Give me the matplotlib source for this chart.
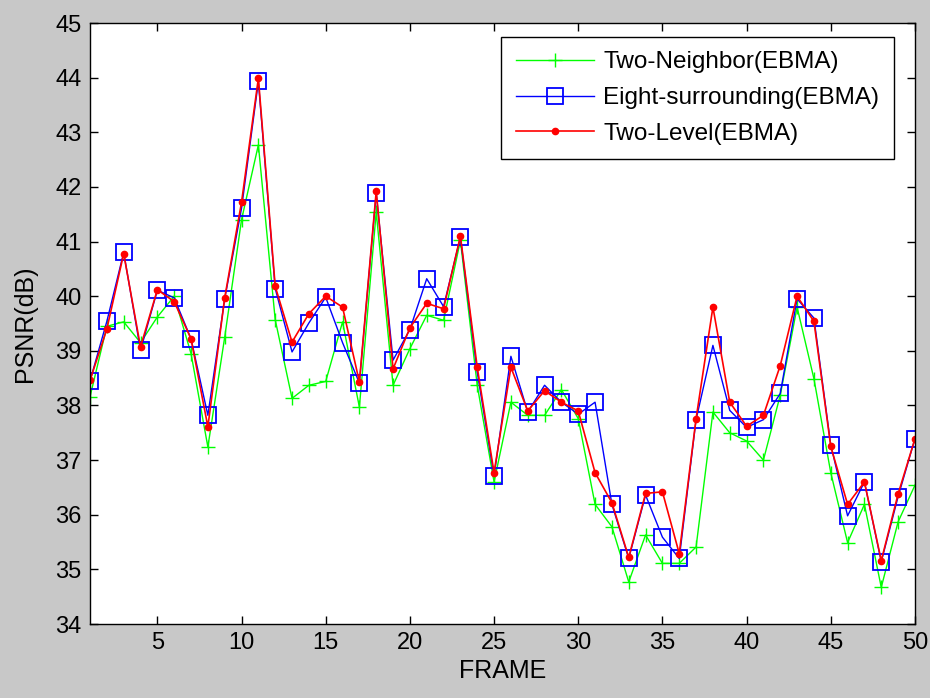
import matplotlib
matplotlib.use("Agg")
import matplotlib.pyplot as plt
import numpy as np

plt.rcParams['font.family'] = ['Liberation Sans', 'DejaVu Sans']

frames = list(range(1, 51))
two_neighbor = [38.16, 39.45, 39.53, 39.15, 39.62, 40.00, 38.95, 37.24, 39.25, 41.40,
                42.77, 39.57, 38.13, 38.37, 38.44, 39.53, 37.97, 41.54, 38.37, 39.04,
                39.65, 39.56, 41.02, 38.37, 36.60, 38.06, 37.82, 37.82, 38.29, 37.76,
                36.19, 35.78, 34.77, 35.63, 35.11, 35.11, 35.41, 37.88, 37.50, 37.35,
                37.00, 38.19, 39.80, 38.49, 36.77, 35.49, 36.19, 34.67, 35.87, 36.54]
eight_surr = [38.45, 39.54, 40.80, 39.01, 40.11, 39.97, 39.22, 37.82, 39.95, 41.61,
              43.93, 40.14, 38.98, 39.51, 39.98, 39.15, 38.41, 41.89, 38.83, 39.39,
              40.32, 39.81, 41.08, 38.61, 36.71, 38.90, 37.88, 38.37, 38.06, 37.84,
              38.06, 36.19, 35.20, 36.36, 35.59, 35.20, 37.74, 39.10, 37.91, 37.60,
              37.74, 38.22, 39.95, 39.60, 37.28, 35.98, 36.60, 35.14, 36.33, 37.39]
two_level = [38.46, 39.40, 40.78, 39.07, 40.12, 39.90, 39.22, 37.61, 39.97, 41.72,
             43.99, 40.18, 39.16, 39.68, 40.00, 39.80, 38.43, 41.92, 38.67, 39.42,
             39.87, 39.77, 41.10, 38.70, 36.77, 38.70, 37.90, 38.27, 38.06, 37.90,
             36.77, 36.22, 35.22, 36.39, 36.42, 35.29, 37.76, 39.80, 38.06, 37.62,
             37.82, 38.73, 40.00, 39.54, 37.25, 36.19, 36.60, 35.16, 36.38, 37.39]
labels = ['Two-Neighbor(EBMA)', 'Eight-surrounding(EBMA)', 'Two-Level(EBMA)']
xticks = [5, 10, 15, 20, 25, 30, 35, 40, 45, 50]
yticks = list(range(34, 46))

fig = plt.figure(figsize=(9.3, 6.98), dpi=100)
fig.patch.set_facecolor('#c8c8c8')
ax = fig.add_axes([0.0968, 0.106, 0.887, 0.861])
ax.set_facecolor('white')

ax.plot(frames, two_neighbor, color='#00ff00', lw=1.0, marker='+', ms=10, mew=1.0, label=labels[0])
ax.plot(frames, eight_surr, color='#0000ff', lw=1.0, marker='s', ms=11, mfc='none', mew=1.3, label=labels[1])
ax.plot(frames, two_level, color='#ff0000', lw=1.2, marker='o', ms=4.5, mfc='#ff0000', mec='#ff0000', label=labels[2])

ax.set_xlim(1, 50)
ax.set_ylim(34, 45)
ax.set_xticks(xticks)
ax.set_yticks(yticks)
ax.tick_params(direction='in', top=True, right=True, length=6, width=1, labelsize=17, colors='black', pad=6)
for s in ax.spines.values():
    s.set_linewidth(1.0)
ax.set_xlabel('FRAME', fontsize=18, labelpad=3)
ax.set_ylabel('PSNR(dB)', fontsize=18, labelpad=13)

leg = ax.legend(loc='upper right', bbox_to_anchor=(0.9745, 0.977), fontsize=17.5, frameon=True,
                fancybox=False, edgecolor='black', framealpha=1, borderpad=0.6,
                labelspacing=0.56, handlelength=3.2, handletextpad=0.4, borderaxespad=0)
leg.get_frame().set_linewidth(1.0)

fig.savefig('out.png', dpi=100, facecolor=fig.get_facecolor())
